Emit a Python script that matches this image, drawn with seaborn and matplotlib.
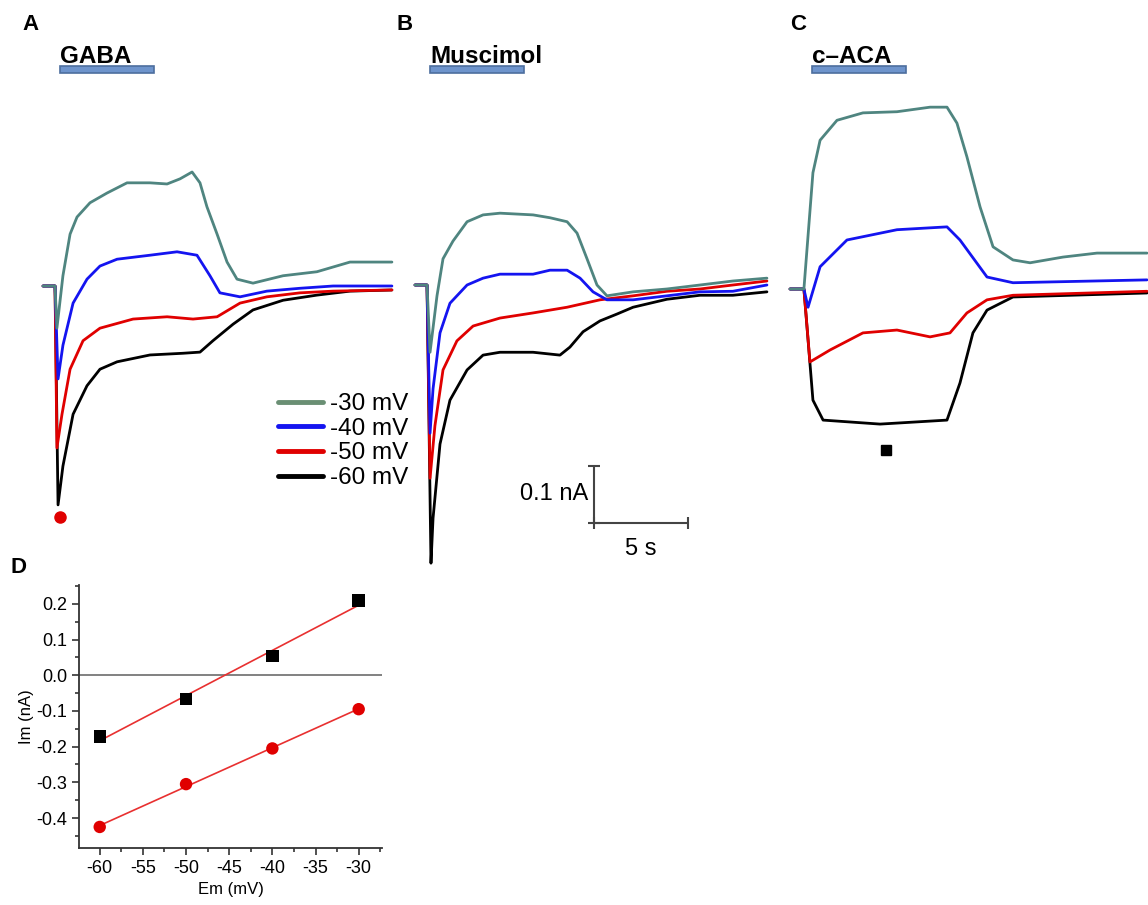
import numpy as np
import pandas as pd
import seaborn as sns
import matplotlib
matplotlib.use('Agg')
import matplotlib.pyplot as plt
from matplotlib.patches import Rectangle
from matplotlib.transforms import blended_transform_factory
from matplotlib.ticker import MultipleLocator, FormatStrFormatter

# ---- traces: time (s) and current (nA) ----
# A: GABA
gaba_t30 = [0, 0.64, 0.74, 1.06, 1.44, 1.81, 2.50, 3.40, 4.47, 5.69, 6.60, 7.29, 7.93, 8.35, 8.72, 9.26, 9.79, 10.32, 11.17, 12.77, 14.57, 16.33, 17.23, 18.56]
gaba_i30 = [0, 0, -0.074, 0.018, 0.091, 0.121, 0.146, 0.163, 0.181, 0.181, 0.179, 0.188, 0.200, 0.181, 0.139, 0.091, 0.042, 0.012, 0.005, 0.018, 0.025, 0.042, 0.042, 0.042]
gaba_t40 = [0, 0.64, 0.80, 1.06, 1.60, 2.34, 3.03, 3.94, 5.69, 7.13, 8.19, 8.88, 9.41, 10.48, 11.91, 13.67, 15.43, 18.56]
gaba_i40 = [0, 0, -0.163, -0.104, -0.030, 0.012, 0.035, 0.047, 0.054, 0.060, 0.054, 0.018, -0.012, -0.019, -0.009, -0.004, 0, 0]
gaba_t50 = [0, 0.64, 0.74, 1.01, 1.44, 2.13, 3.03, 4.79, 6.60, 7.98, 9.26, 10.48, 11.91, 13.67, 15.43, 18.56]
gaba_i50 = [0, 0, -0.284, -0.225, -0.146, -0.096, -0.074, -0.058, -0.054, -0.058, -0.054, -0.030, -0.019, -0.012, -0.009, -0.007]
gaba_t60 = [0, 0.64, 0.80, 1.06, 1.60, 2.34, 3.03, 3.94, 5.69, 7.45, 8.35, 9.04, 10.11, 11.17, 12.77, 14.57, 16.33, 18.56]
gaba_i60 = [0, 0, -0.384, -0.316, -0.225, -0.175, -0.146, -0.133, -0.121, -0.118, -0.116, -0.096, -0.067, -0.042, -0.025, -0.016, -0.009, -0.007]

# B: Muscimol
musc_t30 = [0, 0.64, 0.80, 1.17, 1.49, 2.02, 2.77, 3.62, 4.52, 6.28, 7.18, 8.09, 8.62, 9.15, 9.68, 10.21, 11.60, 13.40, 15.16, 16.91, 18.72]
musc_i30 = [0, 0, -0.118, -0.019, 0.046, 0.077, 0.111, 0.123, 0.126, 0.123, 0.118, 0.111, 0.091, 0.046, 0, -0.019, -0.012, -0.007, 0, 0.007, 0.012]
musc_t40 = [0, 0.64, 0.80, 0.96, 1.33, 1.86, 2.77, 3.62, 4.52, 6.28, 7.18, 8.09, 8.78, 9.47, 10.21, 11.60, 13.40, 15.16, 16.91, 18.72]
musc_i40 = [0, 0, -0.260, -0.182, -0.084, -0.032, 0, 0.012, 0.019, 0.019, 0.026, 0.026, 0.012, -0.012, -0.026, -0.026, -0.019, -0.012, -0.011, 0]
musc_t50 = [0, 0.64, 0.80, 1.06, 1.49, 2.23, 3.09, 4.52, 6.28, 8.09, 9.84, 11.60, 13.40, 15.16, 16.91, 18.72]
musc_i50 = [0, 0, -0.339, -0.247, -0.149, -0.098, -0.072, -0.058, -0.049, -0.039, -0.026, -0.019, -0.011, -0.007, 0, 0.007]
musc_t60 = [0, 0.64, 0.85, 0.96, 1.33, 1.86, 2.77, 3.62, 4.52, 6.28, 7.71, 8.24, 8.94, 9.84, 10.74, 11.60, 13.40, 15.16, 16.91, 18.72]
musc_i60 = [0, 0, -0.488, -0.409, -0.279, -0.202, -0.149, -0.123, -0.118, -0.118, -0.123, -0.109, -0.082, -0.063, -0.051, -0.039, -0.025, -0.018, -0.018, -0.012]

# C: c-ACA
caca_t30 = [0, 0.74, 1.22, 1.60, 2.50, 3.88, 5.69, 7.45, 8.35, 8.88, 9.41, 10.11, 10.80, 11.86, 12.77, 14.52, 16.33, 18.99]
caca_i30 = [0, 0, 0.204, 0.261, 0.296, 0.309, 0.311, 0.319, 0.319, 0.291, 0.232, 0.144, 0.074, 0.051, 0.046, 0.056, 0.063, 0.063]
caca_t40 = [0, 0.74, 0.96, 1.60, 3.03, 5.69, 8.35, 9.04, 10.48, 11.86, 18.99]
caca_i40 = [0, 0, -0.032, 0.039, 0.086, 0.104, 0.109, 0.086, 0.021, 0.011, 0.016]
caca_t50 = [0, 0.74, 1.06, 2.13, 3.88, 5.69, 7.45, 8.51, 9.41, 10.48, 11.86, 18.99]
caca_i50 = [0, 0, -0.128, -0.107, -0.077, -0.072, -0.084, -0.077, -0.042, -0.019, -0.011, -0.004]
caca_t60 = [0, 0.74, 0.96, 1.22, 1.76, 4.79, 8.35, 9.04, 9.73, 10.48, 11.86, 18.99]
caca_i60 = [0, 0, -0.089, -0.195, -0.230, -0.237, -0.230, -0.165, -0.077, -0.037, -0.014, -0.007]

vm_labels = ['-30 mV', '-40 mV', '-50 mV', '-60 mV']
vm_colors = ['#4f8580', '#1414f0', '#e00000', '#000000']
drug_names = ['GABA', 'Muscimol', 'c\u2013ACA']
drug_start = [0.90, 0.80, 1.17]   # s
drug_len = 5.0                    # s

# measurement points marked on the traces
gaba_mark_t, gaba_mark_i = 0.90, -0.405
caca_mark_t, caca_mark_i = 5.12, -0.282

# D: I-V
em = [-60, -50, -40, -30]
im_caca = [-0.172, -0.066, 0.054, 0.210]
im_gaba = [-0.425, -0.305, -0.205, -0.095]

scale_t, scale_i = 5, 0.1

# ---- layout ----
W, H = 1148, 905
PX_S, PX_NA = 18.8, 570.0

sns.set_style('white')
plt.rcParams['font.family'] = ['Liberation Sans', 'DejaVu Sans']
plt.rcParams['axes.unicode_minus'] = False
plt.rcParams['text.color'] = 'black'
plt.rcParams['axes.labelcolor'] = 'black'
plt.rcParams['xtick.color'] = 'black'
plt.rcParams['ytick.color'] = 'black'

fig = plt.figure(figsize=(W / 100, H / 100), dpi=100)


def trace_ax(x0, base, ilo, ihi, tmax=19.1):
    left = x0 / W
    bottom = 1 - (base - ilo * PX_NA) / H
    ax = fig.add_axes([left, bottom, tmax * PX_S / W, (ihi - ilo) * PX_NA / H])
    ax.set_xlim(0, tmax)
    ax.set_ylim(ilo, ihi)
    ax.axis('off')
    return ax


def trace_frame(ts, is_):
    parts = []
    for lab, t, i in zip(vm_labels, ts, is_):
        parts.append(pd.DataFrame({'t': t, 'I': i, 'Vm': lab}))
    return pd.concat(parts, ignore_index=True)


panels = [
    (43, 286, -0.45, 0.40, [gaba_t30, gaba_t40, gaba_t50, gaba_t60], [gaba_i30, gaba_i40, gaba_i50, gaba_i60]),
    (415, 285, -0.50, 0.40, [musc_t30, musc_t40, musc_t50, musc_t60], [musc_i30, musc_i40, musc_i50, musc_i60]),
    (790, 289, -0.35, 0.40, [caca_t30, caca_t40, caca_t50, caca_t60], [caca_i30, caca_i40, caca_i50, caca_i60]),
]
palette = dict(zip(vm_labels, vm_colors))
axes = []
for k, (x0, base, lo, hi, ts, is_) in enumerate(panels):
    ax = trace_ax(x0, base, lo, hi)
    df = trace_frame(ts, is_)
    # most negative holding potential drawn first so the -30 mV trace sits on top
    sns.lineplot(data=df, x='t', y='I', hue='Vm', hue_order=vm_labels[::-1], palette=palette,
                 estimator=None, sort=False, lw=2.0, legend=(k == 0), ax=ax, clip_on=False)
    # drug application bar
    tr = blended_transform_factory(ax.transData, fig.transFigure)
    ax.add_patch(Rectangle((drug_start[k], 1 - 73 / H), drug_len, 7 / H, transform=tr,
                           facecolor='#6e94cc', edgecolor='#4d6e9e', lw=1.2, clip_on=False))
    ax.text(drug_start[k], 1 - 63 / H, drug_names[k], transform=tr, fontsize=17.5,
            fontweight='bold', ha='left', va='baseline')
    axes.append(ax)

axA, axB, axC = axes

# legend in panel A (back in -30 .. -60 order)
handles, labels = axA.get_legend_handles_labels()
axA.get_legend().remove()
order = [labels.index(lab) for lab in vm_labels]
leg = fig.legend([handles[j] for j in order], [labels[j] for j in order],
                 loc='upper left', bbox_to_anchor=(278 / W, 1 - 393 / H),
                 frameon=False, fontsize=17.5, handlelength=1.85, handletextpad=0.3,
                 labelspacing=0.11, borderpad=0, borderaxespad=0)
for h in leg.get_lines():
    h.set_linewidth(3.5)
leg.get_lines()[0].set_color('#6a8f74')

axA.plot([gaba_mark_t], [gaba_mark_i], 'o', color='#e00000', ms=8, clip_on=False)
axC.plot([caca_mark_t], [caca_mark_i], 's', color='black', ms=6.5, clip_on=False)

# scale bar in panel B
sb_t, sb_i = 9.52, -0.4175
axB.plot([sb_t, sb_t], [sb_i, sb_i + scale_i], color='#444444', lw=1.5,
         marker='_', ms=8, mew=1.5, clip_on=False)
axB.plot([sb_t, sb_t + scale_t], [sb_i, sb_i], color='#444444', lw=1.5,
         marker='|', ms=8, mew=1.5, clip_on=False)
axB.text(sb_t - 0.3, sb_i + scale_i / 2, f'{scale_i:g} nA', fontsize=17, ha='right', va='center')
axB.text(sb_t + scale_t / 2, sb_i - 0.045, f'{scale_t:g} s', fontsize=17, ha='center', va='center')

# panel D: I-V relation
axD = fig.add_axes([79 / W, 1 - 848 / H, (382 - 79) / W, (848 - 585) / H])
iv = pd.DataFrame({'Em': em + em, 'Im': im_caca + im_gaba,
                   'agonist': ['c-ACA'] * 4 + ['GABA'] * 4})
axD.axhline(0, color='#777777', lw=1.3, zorder=1)
for name in ['c-ACA', 'GABA']:
    sub = iv[iv['agonist'] == name]
    sns.regplot(data=sub, x='Em', y='Im', ci=None, scatter=False, truncate=True,
                line_kws={'color': '#e83030', 'lw': 1.2}, ax=axD)
sns.scatterplot(data=iv, x='Em', y='Im', hue='agonist', style='agonist',
                markers={'c-ACA': 's', 'GABA': 'o'},
                palette={'c-ACA': 'black', 'GABA': '#e00000'},
                s=80, edgecolor='none', legend=False, ax=axD, zorder=3)
axD.set_xlim(-62.4, -27.3)
axD.set_ylim(-0.484, 0.253)
axD.xaxis.set_major_locator(MultipleLocator(5))
axD.xaxis.set_minor_locator(MultipleLocator(2.5))
axD.yaxis.set_major_locator(MultipleLocator(0.1))
axD.yaxis.set_minor_locator(MultipleLocator(0.05))
axD.yaxis.set_major_formatter(FormatStrFormatter('%.1f'))
for side in ['top', 'right']:
    axD.spines[side].set_visible(False)
for side in ['left', 'bottom']:
    axD.spines[side].set_color('#333333')
    axD.spines[side].set_linewidth(1.3)
axD.tick_params(which='both', direction='out', color='#333333', width=1.2,
                left=True, bottom=True, labelsize=13)
axD.tick_params(which='major', length=5)
axD.tick_params(which='minor', length=3)
axD.set_xlabel('Em (mV)', fontsize=12, labelpad=4)
axD.set_ylabel('Im (nA)', fontsize=12, labelpad=2)

# panel letters
for lab, x, y in [('A', 22, 30), ('B', 396, 30), ('C', 790, 30), ('D', 10, 573)]:
    fig.text(x / W, 1 - y / H, lab, fontsize=16, fontweight='bold', ha='left', va='baseline')

fig.savefig('out.png', dpi=100)
